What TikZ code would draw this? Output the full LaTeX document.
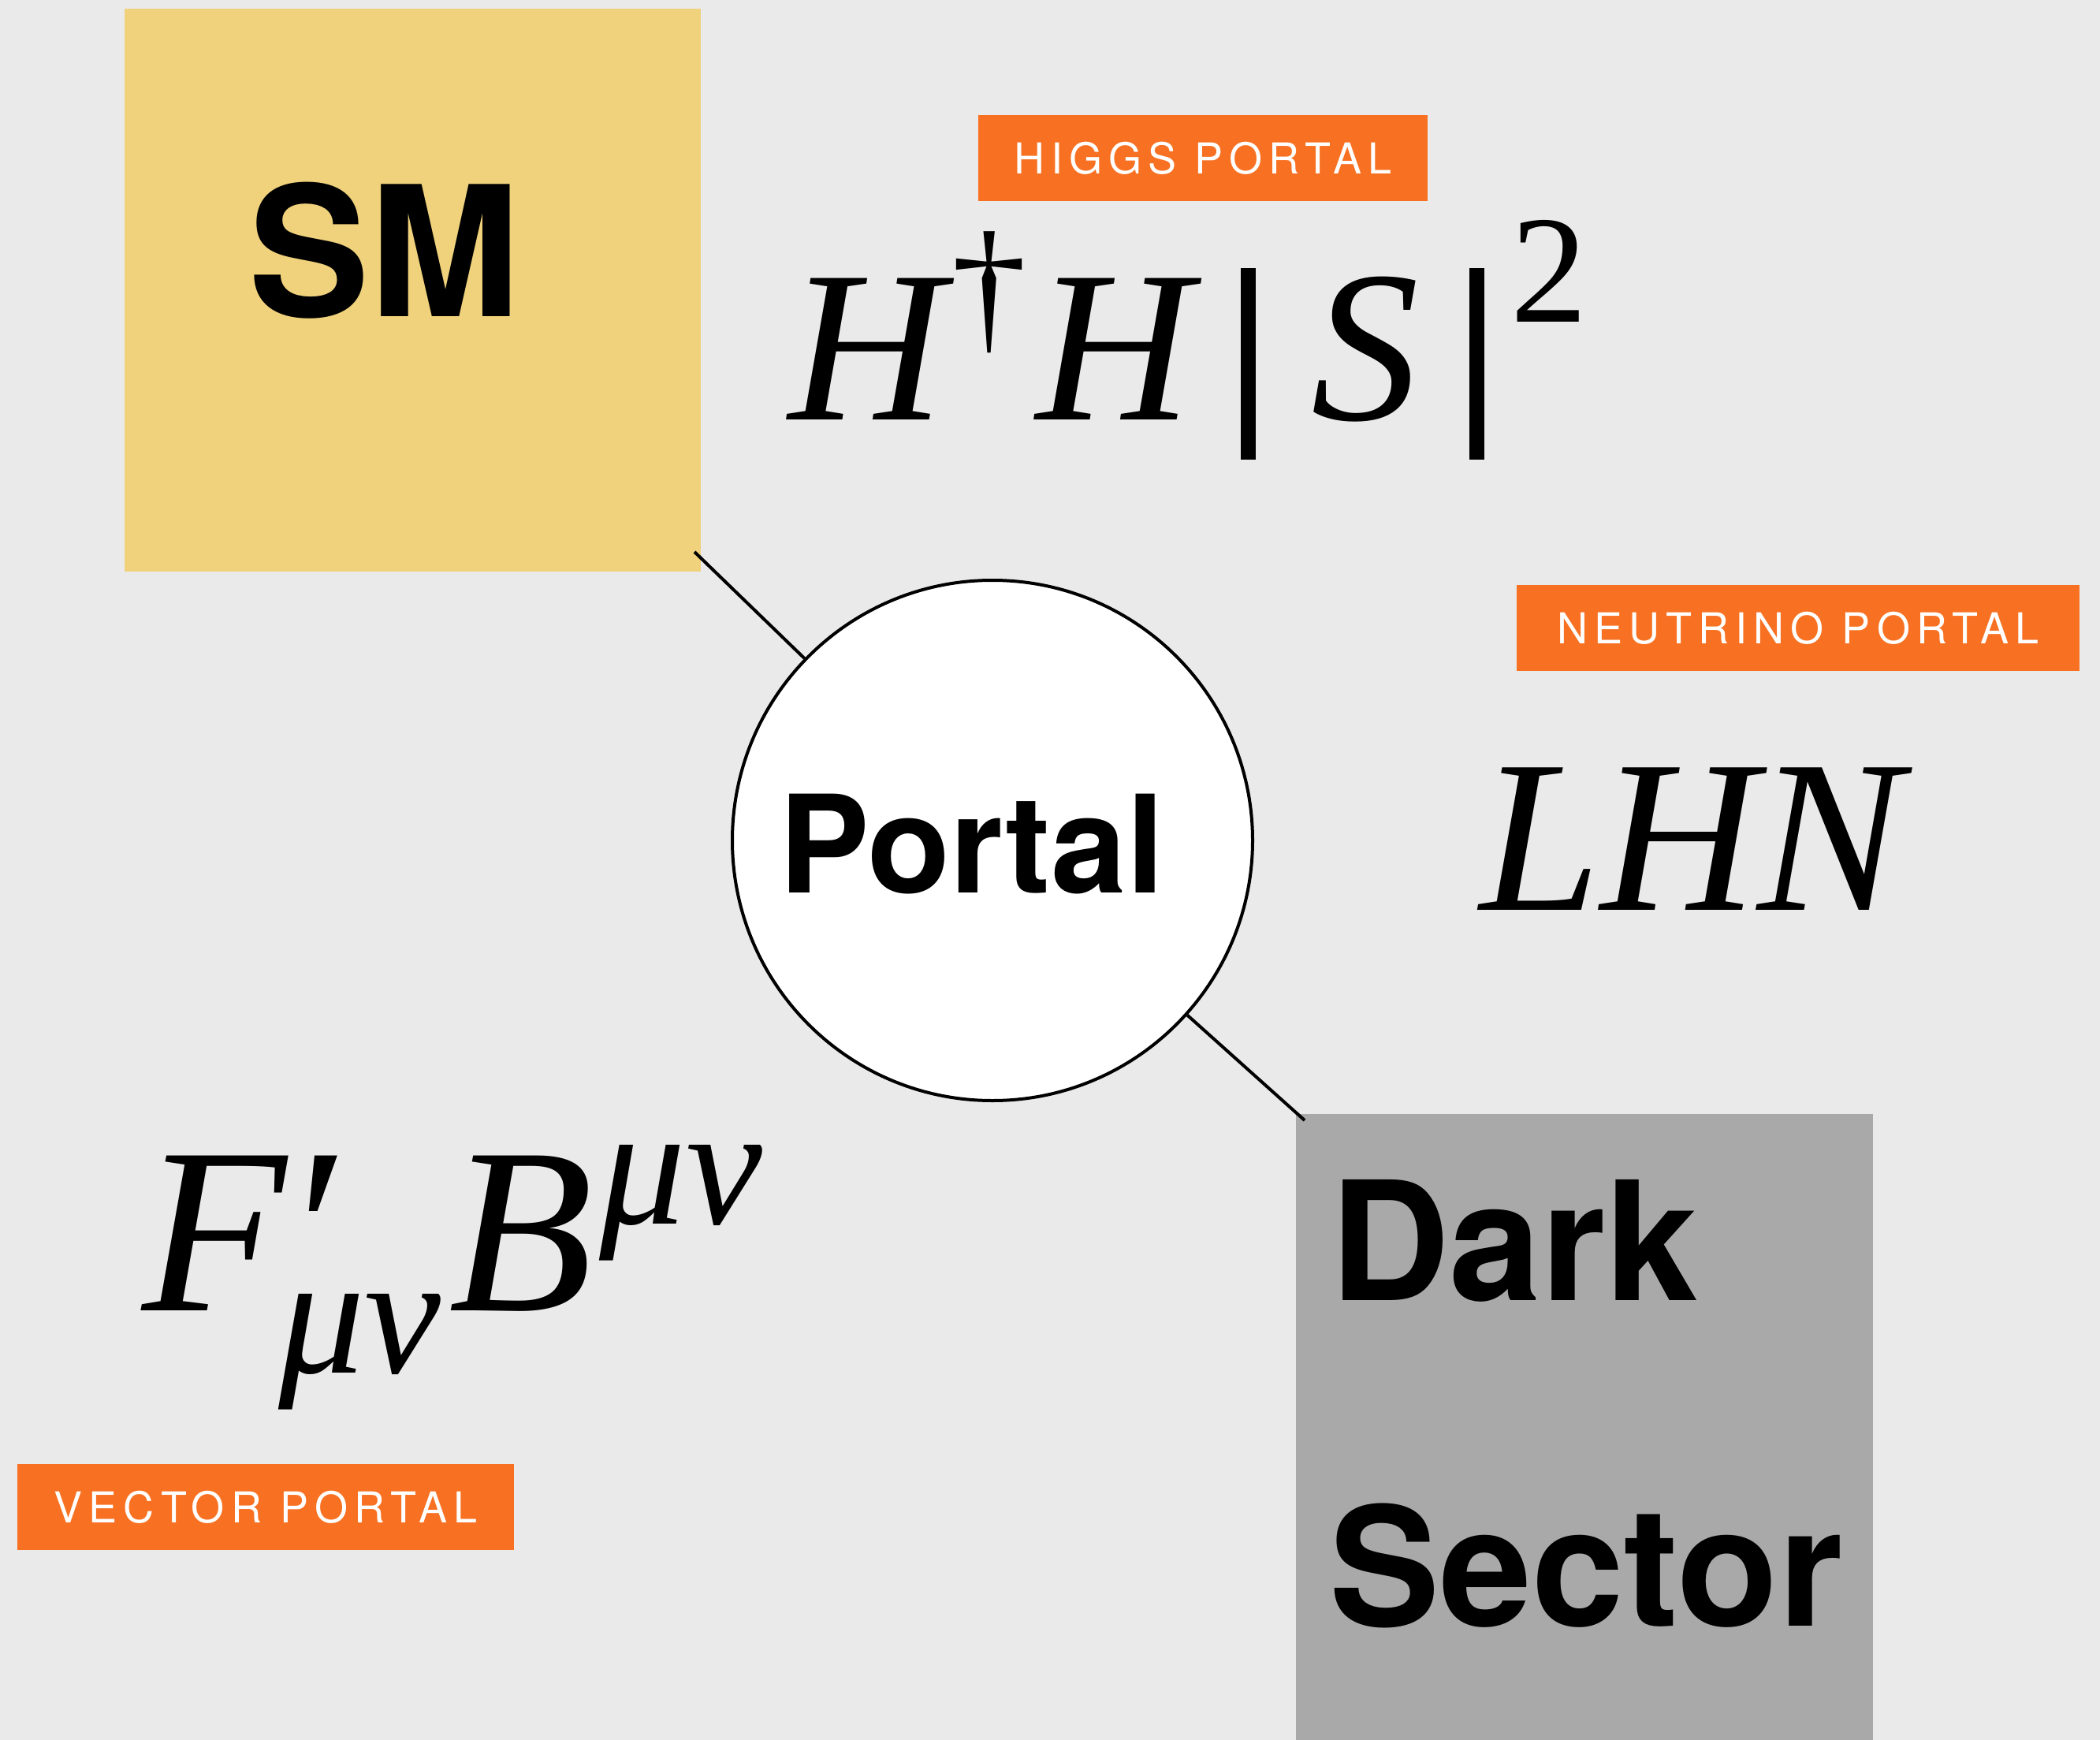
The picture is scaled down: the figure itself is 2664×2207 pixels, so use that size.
\documentclass[tikz,border=0pt]{standalone}
\usepackage{fontspec}
\setmainfont{Liberation Serif}
\newfontfamily\headfont{TeX Gyre Heros}
\newfontfamily\tagfont{TeX Gyre Heros}[LetterSpace=15]
\newfontfamily\fmlfont{Liberation Serif}

\definecolor{bgcol}{HTML}{EAEAEA}
\definecolor{smcol}{HTML}{F0D27C}
\definecolor{darkcol}{HTML}{A9A9A9}
\definecolor{tagcol}{HTML}{F87122}

\tikzset{
  sectorbox/.style={rectangle, inner sep=0pt, draw=none},
  bighead/.style={anchor=base west, inner sep=0pt, font=\headfont\bfseries\fontsize{#1}{#1}\selectfont},
  tag/.style={rectangle, fill=tagcol, text=white, inner sep=0pt, minimum height=109pt,
              font=\tagfont\fontsize{54}{54}\selectfont},
  fml/.style={anchor=base west, inner sep=0pt, font=\fmlfont\fontsize{#1}{#1}\selectfont},
  link/.style={line width=4pt, black},
  portalnode/.style={circle, draw=black, line width=4pt, fill=white, minimum size=660pt, inner sep=0pt}
}

\begin{document}
\begin{tikzpicture}[x=1pt,y=-1pt]
  % canvas
  \fill[bgcol] (0,0) rectangle (2664,2207);
  \useasboundingbox (0,0) rectangle (2664,2207);

  % the two sectors
  \node[sectorbox, fill=smcol, minimum width=731pt, minimum height=714pt] (sm) at (523.5,368) {};
  \node[sectorbox, fill=darkcol, minimum width=732pt, minimum height=794pt] (ds) at (2010,1810) {};
  \node[bighead=230] (smlabel) at (315,402) {SM};
  \node[bighead=210] (darklabel) at (1687,1649) {Dark};
  \node[bighead=210] (sectorlabel) at (1686,2062) {Sector};

  % the portal and its connectors
  \node[portalnode] (portal) at (1259,1066) {};
  \node[bighead=172] (portallabel) at (988,1132) {Portal};
  \coordinate (smcorner) at (881,700);
  \coordinate (dscorner) at (1655,1421);
  \draw[link] (smcorner) -- (portal);
  \draw[link] (portal) -- (dscorner);

  % portal tags
  \node[tag, minimum width=570pt] (higgstag) at (1526,200.5) {HIGGS PORTAL};
  \node[tag, minimum width=714pt] (nutag) at (2281,796.5) {NEUTRINO PORTAL};
  \node[tag, minimum width=630pt] (vectag) at (337,1911.5) {VECTOR PORTAL};

  % portal operators
  \node[fml=274] (higgsterm) at (1000,532) {%
    {\itshape H}\kern9pt\raisebox{107pt}{\fontsize{190}{190}\selectfont †}\kern12pt{\itshape H}%
    \kern62pt\rule[-51pt]{19pt}{243pt}\kern71pt{\itshape S}\kern63pt\rule[-51pt]{19pt}{243pt}%
    \kern34pt\raisebox{124pt}{\fontsize{195}{195}\selectfont 2}};
  \node[fml=276] (nuterm) at (1877,1154) {\itshape LHN};
  \node[fml=300] (vecterm) at (180,1662) {%
    {\itshape F}\kern-10pt\rlap{\kern24pt ′}\raisebox{-79pt}{\fontsize{218}{218}\selectfont\itshape μν}%
    \kern10pt{\itshape B}\kern8pt\raisebox{110pt}{\fontsize{218}{218}\selectfont\itshape μν}};
\end{tikzpicture}
\end{document}
